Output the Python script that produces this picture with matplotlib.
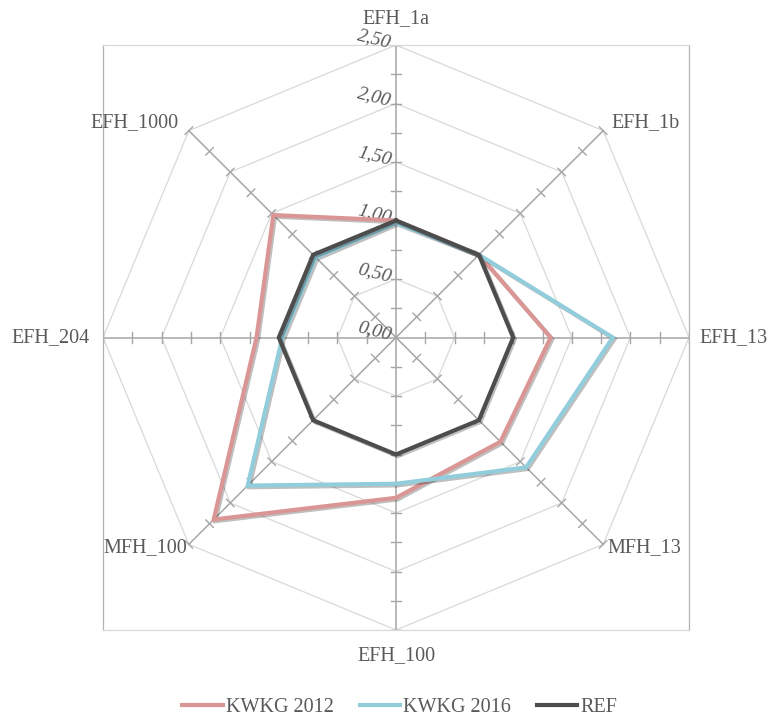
import numpy as np
import matplotlib.pyplot as plt
import matplotlib.patheffects as pe

categories = ['EFH_1a', 'EFH_1b', 'EFH_13', 'MFH_13', 'EFH_100', 'MFH_100', 'EFH_204', 'EFH_1000']
kwkg_2012 = [1.00, 1.00, 1.32, 1.26, 1.37, 2.20, 1.19, 1.48]
kwkg_2016 = [0.98, 1.00, 1.85, 1.57, 1.25, 1.79, 0.97, 0.97]
ref = [1.00, 1.00, 1.00, 1.00, 1.00, 1.00, 1.00, 1.00]
ring_values = [0.5, 1.0, 1.5, 2.0, 2.5]
tick_labels = ['0,00', '0,50', '1,00', '1,50', '2,00', '2,50']

RMAX = 2.5
n = len(categories)
theta = np.arange(n) * 2 * np.pi / n  # clockwise from top


def xy(r, th):
    return np.asarray(r) * np.sin(th), np.asarray(r) * np.cos(th)


plt.rcParams['font.family'] = ['Liberation Serif', 'DejaVu Serif']
txt = '#595959'

fig = plt.figure(figsize=(7.69, 7.2), dpi=100)
ax = fig.add_axes([103 / 769, 90 / 720, 586 / 769, 585 / 720])
ax.set_xlim(-RMAX, RMAX)
ax.set_ylim(-RMAX, RMAX)
ax.set_xticks([])
ax.set_yticks([])
for s in ['left', 'right']:
    ax.spines[s].set_color('#b3b3b3')
for s in ['top', 'bottom']:
    ax.spines[s].set_color('#d9d9d9')
for s in ax.spines.values():
    s.set_linewidth(0.9)

# grid octagons
for r in ring_values:
    gx, gy = xy(np.full(n + 1, r), np.append(theta, theta[0]))
    ax.plot(gx, gy, color='#d9d9d9', lw=0.9, zorder=1)

# spokes with tick marks
tick_half = 0.045
for th in theta:
    sx, sy = xy([0, RMAX], [th, th])
    ax.plot(sx, sy, color='#a6a6a6', lw=1.1, zorder=2)
    for v in np.arange(0.25, RMAX + 0.01, 0.25):
        cx, cy = xy(v, th)
        px, py = np.cos(th), -np.sin(th)
        ax.plot([cx - px * tick_half, cx + px * tick_half],
                [cy - py * tick_half, cy + py * tick_half],
                color='#a6a6a6', lw=1.0, zorder=2)

# value labels
for i, lab in enumerate(tick_labels):
    ax.text(-0.04, i * 0.5 + 0.02, lab, ha='right', va='center', rotation=-14,
            rotation_mode='anchor', style='italic', fontsize=14, color=txt, zorder=3)

# series
series = [(kwkg_2012, '#d99694', 'KWKG 2012'),
          (kwkg_2016, '#92cddc', 'KWKG 2016'),
          (ref, '#4d4d4d', 'REF')]
shadow = [pe.SimpleLineShadow(offset=(1.2, -1.2), alpha=0.25), pe.Normal()]
for vals, col, lab in series:
    lx, ly = xy(np.append(vals, vals[0]), np.append(theta, theta[0]))
    ax.plot(lx, ly, color=col, lw=3, label=lab, zorder=4,
            solid_joinstyle='miter', path_effects=shadow)

# category labels
px_unit = 586 / 5.0
label_pos = {
    'EFH_1a': (0, 338 - 19, 'center'),
    'EFH_1b': (612 - 397, 338 - 123, 'left'),
    'EFH_13': (700 - 397, 0, 'left'),
    'MFH_13': (608 - 397, 338 - 548, 'left'),
    'EFH_100': (0, 338 - 657, 'center'),
    'MFH_100': (188 - 397, 338 - 548, 'right'),
    'EFH_204': (91 - 397, 0, 'right'),
    'EFH_1000': (180 - 397, 338 - 123, 'right'),
}
for cat in categories:
    dx, dy, ha = label_pos[cat]
    ax.text(dx / px_unit, dy / px_unit, cat, ha=ha, va='center', fontsize=14.5,
            color=txt, clip_on=False)

leg = fig.legend(loc='center', bbox_to_anchor=(0.52, 0.017), ncol=3, frameon=False,
                 fontsize=14.5, handlelength=2.0, handletextpad=0.15, columnspacing=1.3)
for t in leg.get_texts():
    t.set_color(txt)
for h in leg.get_lines():
    h.set_path_effects([])

fig.savefig('out.png', dpi=100)
